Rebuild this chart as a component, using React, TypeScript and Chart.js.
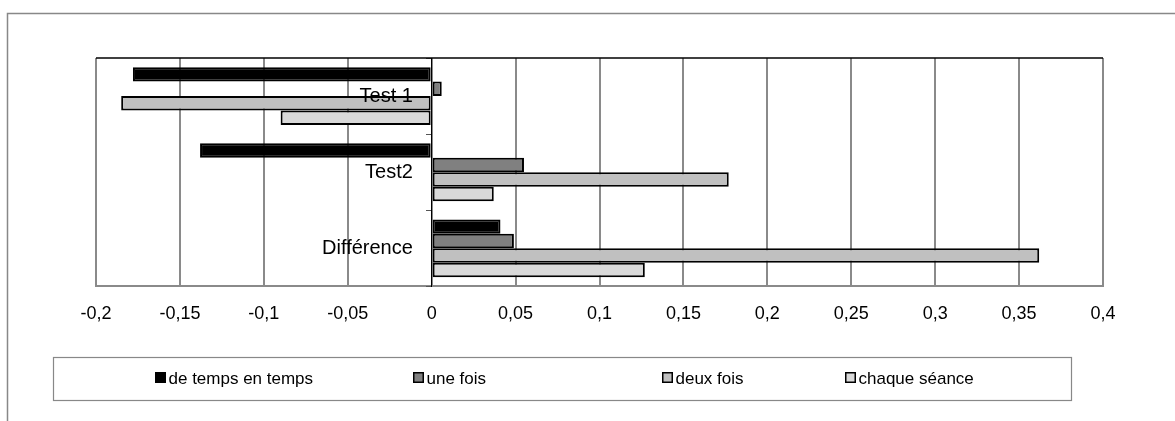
import React, { useEffect, useRef } from 'react';
import { Chart, registerables } from 'chart.js';

Chart.register(...registerables);

const categories = ['Test 1', 'Test2', 'Différence'];
const seriesNames = ['de temps en temps', 'une fois', 'deux fois', 'chaque séance'];
const deTempsEnTemps = [-0.178, -0.138, 0.041];
const uneFois = [0.006, 0.055, 0.049];
const deuxFois = [-0.185, 0.177, 0.362];
const chaqueSeance = [-0.09, 0.037, 0.127];
const xTickValues = [-0.2, -0.15, -0.1, -0.05, 0, 0.05, 0.1, 0.15, 0.2, 0.25, 0.3, 0.35, 0.4];
const seriesColors = ['#000000', '#808080', '#c0c0c0', '#d9d9d9'];

const FONT = '"Liberation Sans", Arial, sans-serif';
const LEGEND_ITEM_X = [155, 413, 662, 845];
// category labels sit a little left of the zero axis
const LABEL_ANCHOR = -0.0112;

const fmt = (v: number) => String(Number(v.toFixed(2))).replace('.', ',');

const framePlugin = {
  id: 'frame',
  beforeDraw(chart: any) {
    const ctx = chart.ctx;
    ctx.save();
    ctx.fillStyle = '#ffffff';
    ctx.fillRect(0, 0, chart.width, chart.height);
    ctx.strokeStyle = '#888888';
    ctx.lineWidth = 1.5;
    ctx.beginPath();
    ctx.moveTo(7.5, chart.height);
    ctx.lineTo(7.5, 13.5);
    ctx.lineTo(chart.width, 13.5);
    ctx.stroke();
    ctx.restore();
  },
  afterDraw(chart: any) {
    const ctx = chart.ctx;
    const { left, right, top } = chart.chartArea;
    ctx.save();
    ctx.strokeStyle = '#000000';
    ctx.lineWidth = 1.5;
    ctx.beginPath();
    ctx.moveTo(left, top);
    ctx.lineTo(right, top);
    ctx.stroke();

    // legend
    ctx.strokeStyle = '#888888';
    ctx.lineWidth = 1.2;
    ctx.strokeRect(53.5, 357.5, 1018, 43);
    ctx.font = `17px ${FONT}`;
    ctx.textBaseline = 'middle';
    ctx.textAlign = 'left';
    chart.data.datasets.forEach((ds: any, i: number) => {
      const x = LEGEND_ITEM_X[i];
      ctx.fillStyle = ds.backgroundColor;
      ctx.fillRect(x, 372, 11, 11);
      ctx.strokeStyle = '#000000';
      ctx.lineWidth = 1.5;
      ctx.strokeRect(x + 0.75, 372.75, 9.5, 9.5);
      ctx.fillStyle = '#000000';
      ctx.fillText(ds.label, x + 13.5, 379);
    });
    ctx.restore();
  },
};

export default function App() {
  const ref = useRef<HTMLCanvasElement | null>(null);

  useEffect(() => {
    if (!ref.current) return;
    const series = [deTempsEnTemps, uneFois, deuxFois, chaqueSeance];
    const chart = new Chart(ref.current, {
      type: 'bar',
      data: {
        labels: categories,
        datasets: series.map((d, i) => ({
          label: seriesNames[i],
          data: d,
          backgroundColor: seriesColors[i],
          borderColor: '#000000',
          borderWidth: 2,
          borderSkipped: false,
          categoryPercentage: 0.76,
          barPercentage: 1,
          yAxisID: 'y',
        })),
      },
      options: {
        indexAxis: 'y',
        responsive: false,
        animation: false,
        devicePixelRatio: 1,
        layout: { padding: { left: 96, right: 72, top: 58, bottom: 79 } },
        plugins: { legend: { display: false }, tooltip: { enabled: false } },
        scales: {
          x: {
            type: 'linear',
            min: -0.2,
            max: 0.4,
            afterBuildTicks: (scale: any) => {
              scale.ticks = xTickValues.map((v) => ({ value: v }));
            },
            grid: { color: '#8a8a8a', lineWidth: 2, drawTicks: false },
            border: { color: '#8a8a8a', width: 2 },
            ticks: {
              color: '#000000',
              font: { family: FONT, size: 18 },
              padding: 17,
              maxRotation: 0,
              autoSkip: false,
              callback: (v: any) => fmt(Number(v)),
            },
          },
          y: {
            type: 'category',
            axis: 'y',
            offset: true,
            position: { x: 0 } as any,
            grid: { offset: true, drawOnChartArea: false, drawTicks: true, tickLength: 5, color: '#555555', z: 1 },
            border: { color: '#000000', width: 1, z: 1 },
            ticks: { display: false },
          },
          y2: {
            type: 'category',
            axis: 'y',
            offset: true,
            position: { x: LABEL_ANCHOR } as any,
            grid: { display: false, offset: true },
            border: { display: false },
            ticks: {
              color: '#000000',
              font: { family: FONT, size: 20 },
              padding: 0,
              z: 2,
            },
          },
        },
      },
      plugins: [framePlugin],
    });
    return () => chart.destroy();
  }, []);

  return (
    <div style={{ position: 'fixed', left: 0, top: 0, width: 1175, height: 421, background: '#fff' }}>
      <canvas ref={ref} width={1175} height={421} style={{ display: 'block', width: 1175, height: 421 }} />
    </div>
  );
}
